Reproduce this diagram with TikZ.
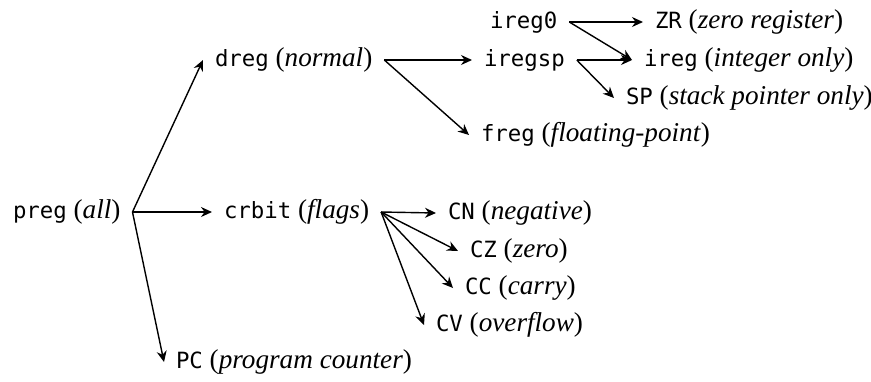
\documentclass[tikz,border=0pt]{standalone}
\usepackage{fontspec}
\setmainfont{Liberation Serif}
\setmonofont{DejaVu Sans Mono}[Scale=0.822]
\usetikzlibrary{arrows.meta}

\tikzset{
  reg/.style={anchor=west, inner xsep=6pt, inner ysep=0pt, outer sep=0pt,
    font=\fontsize{13.6}{16}\selectfont},
  link/.style={line width=0.7pt, -{Stealth[length=5.5pt,width=5pt,inset=1.8pt]}},
}
\newcommand{\rg}[2]{\texttt{#1} (\textit{#2})}

\begin{document}
\begin{tikzpicture}[x=0.5pt, y=-0.5pt]
  \useasboundingbox (0,0) rectangle (871,381);

  % root
  \node[reg] (preg) at (1,212) {\rg{preg}{all}};

  % first level
  \node[reg] (dreg)  at (203,60)  {\rg{dreg}{normal}};
  \node[reg] (crbit) at (212,212) {\rg{crbit}{flags}};
  \node[reg] (pc)    at (164,362) {\rg{PC}{program counter}};

  % general-purpose registers
  \node[reg] (ireg0)  at (478,22)  {\texttt{ireg0}};
  \node[reg] (iregsp) at (472,60)  {\texttt{iregsp}};
  \node[reg] (freg)   at (469,135) {\rg{freg}{floating-point}};
  \node[reg] (zr)     at (643,22)  {\rg{ZR}{zero register}};
  \node[reg] (ireg)   at (632,60)  {\rg{ireg}{integer only}};
  \node[reg] (sp)     at (614,98)  {\rg{SP}{stack pointer only}};

  % condition flags
  \node[reg] (cn) at (436,213) {\rg{CN}{negative}};
  \node[reg] (cz) at (458,251) {\rg{CZ}{zero}};
  \node[reg] (cc) at (453,288) {\rg{CC}{carry}};
  \node[reg] (cv) at (424,325) {\rg{CV}{overflow}};

  \draw[link] (preg.east) -- (dreg.west);
  \draw[link] (preg.east) -- (crbit.west);
  \draw[link] (preg.east) -- (pc.west);

  \draw[link] (dreg.east) -- (iregsp.west);
  \draw[link] (dreg.east) -- (freg.west);

  \draw[link] (ireg0.east) -- (zr.west);
  \draw[link] (ireg0.east) -- (ireg.west);
  \draw[link] (iregsp.east) -- (ireg.west);
  \draw[link] (iregsp.east) -- (sp.west);

  \draw[link] (crbit.east) -- (cn.west);
  \draw[link] (crbit.east) -- (cz.west);
  \draw[link] (crbit.east) -- (cc.west);
  \draw[link] (crbit.east) -- (cv.west);
\end{tikzpicture}
\end{document}
